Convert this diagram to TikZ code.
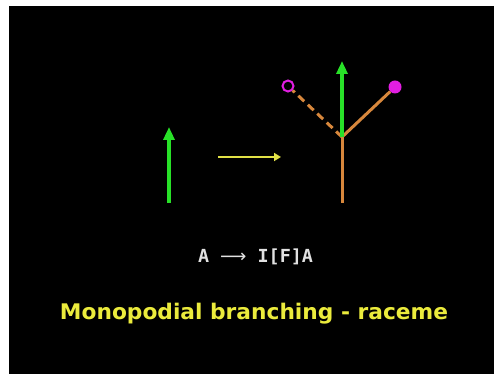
\documentclass[tikz,border=0pt]{standalone}
\usepackage{fontspec}
\usepackage{graphicx}
\setmainfont{DejaVu Sans}
\newfontfamily\monofnt{DejaVu Sans Mono}
\newfontfamily\arrfnt{DejaVu Sans}
\usetikzlibrary{arrows.meta}
\definecolor{bggreen}{RGB}{40,225,40}
\definecolor{stemorange}{RGB}{215,135,60}
\definecolor{budmag}{RGB}{225,30,225}
\definecolor{arrowyel}{RGB}{225,225,70}
\definecolor{titleyel}{RGB}{235,235,60}
\definecolor{formgray}{RGB}{225,225,225}
\tikzset{
  apex/.style={draw=bggreen, line width=3.2pt, -{Triangle[width=11pt,length=13pt]}},
  stem/.style={draw=stemorange, line width=3pt},
  budopen/.style={circle, draw=budmag, line width=2pt, minimum size=11pt, inner sep=0pt},
  budfull/.style={circle, fill=budmag, minimum size=13pt, inner sep=0pt},
  prodarrow/.style={draw=arrowyel, line width=2.6pt, -{Triangle[width=8pt,length=7pt]}},
}
\begin{document}
\begin{tikzpicture}[x=1pt,y=1pt]
\useasboundingbox (0,0) rectangle (494,374);
\fill[white] (0,0) rectangle (494,374);
\fill[black] (9,0) rectangle (494,368);
% left: single apex
\coordinate (l0) at (169,171);
\coordinate (l1) at (169,247);
\draw[apex] (l0) -- (l1);
% production arrow
\coordinate (p0) at (218,217);
\coordinate (p1) at (281,217);
\draw[prodarrow] (p0) -- (p1);
% right: branched structure
\coordinate (base) at (342,171);
\coordinate (J) at (342,237);
\coordinate (top) at (342,313);
\node[budopen] (fo) at (288,288) {};
\node[budfull] (ff) at (395,287) {};
\draw[stem] (base) -- (J);
\draw[stem, dash pattern=on 8pt off 5pt] (J) -- (fo);
\draw[stem] (J) -- (ff);
\draw[apex] (J) -- (top);
% texts
\node[text=formgray, inner sep=0pt] (rule) at (255.5,117)
  {\resizebox{115pt}{\height}{\monofnt\bfseries\fontsize{18}{20}\selectfont A {\arrfnt\mdseries ⟶} I[F]A}};
\node[text=titleyel, anchor=base, inner sep=0pt] (title) at (254,54)
  {\resizebox{388pt}{\height}{\bfseries\fontsize{21.5}{24}\selectfont Monopodial branching - raceme}};
\end{tikzpicture}
\end{document}
